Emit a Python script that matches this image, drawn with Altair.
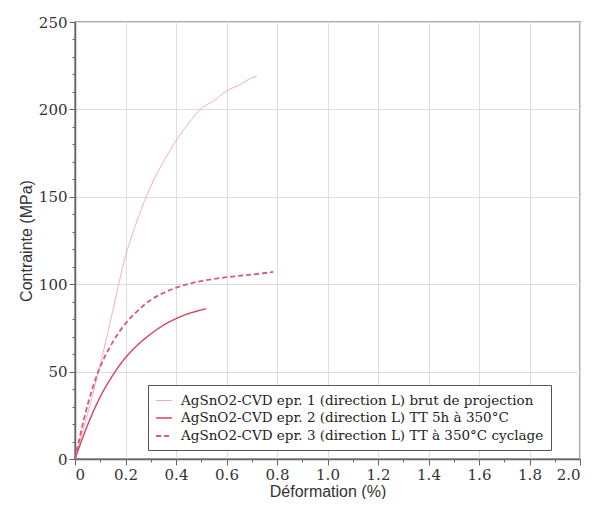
import altair as alt
import pandas as pd

labels = [
    "AgSnO2-CVD epr. 1 (direction L) brut de projection",
    "AgSnO2-CVD epr. 2 (direction L) TT 5h à 350°C",
    "AgSnO2-CVD epr. 3 (direction L) TT à 350°C cyclage",
]

x1 = [0, 0.05, 0.1, 0.15, 0.2, 0.25, 0.3, 0.35, 0.4, 0.45, 0.5, 0.55, 0.6, 0.65, 0.7, 0.72]
y1 = [0, 26, 54, 85, 116, 138, 156, 170, 182, 192, 200.5, 205, 210.5, 214, 218, 219]

x2 = [0, 0.05, 0.1, 0.15, 0.2, 0.25, 0.3, 0.35, 0.4, 0.45, 0.52]
y2 = [0, 19.5, 35.6, 48, 58, 65.5, 71.5, 76.5, 80.3, 83.2, 86]

x3 = [0, 0.05, 0.1, 0.15, 0.2, 0.25, 0.3, 0.35, 0.4, 0.45, 0.5, 0.6, 0.7, 0.785]
y3 = [0, 31, 52.8, 67, 77.5, 85, 91, 95, 98, 100.2, 101.8, 104, 105.5, 107]

rows = []
for lab, xs, ys in zip(labels, [x1, x2, x3], [y1, y2, y3]):
    for i, (a, b) in enumerate(zip(xs, ys)):
        rows.append({"serie": lab, "x": a, "y": b, "o": i})
df = pd.DataFrame(rows)

colors = ["#f6a3b0", "#d8435d", "#d9587a"]
dashes = [[1, 0], [1, 0], [5, 3]]
widths = [1.0, 1.8, 1.8]

xscale = alt.Scale(domain=[0, 2.0], nice=False)
yscale = alt.Scale(domain=[0, 250], nice=False)

lines = alt.Chart(df).mark_line(interpolate="catmull-rom").encode(
    x=alt.X("x:Q", scale=xscale, title="Déformation (%)",
            axis=alt.Axis(orient="bottom", values=[0, 0.2, 0.4, 0.6, 0.8, 1.0, 1.2, 1.4, 1.6, 1.8, 2.0],
                          labelExpr="datum.value == 0 ? '0' : format(datum.value, '.1f')",
                          grid=True, gridColor="#dddddd", tickSize=6)),
    y=alt.Y("y:Q", scale=yscale, title="Contrainte (MPa)",
            axis=alt.Axis(orient="left", values=[0, 50, 100, 150, 200, 250], grid=True,
                          gridColor="#dddddd", tickSize=6)),
    color=alt.Color("serie:N", scale=alt.Scale(domain=labels, range=colors),
                    legend=alt.Legend(title=None, orient="none", legendX=73, legendY=363,
                                      direction="vertical", symbolType="stroke", symbolSize=250,
                                      symbolStrokeWidth=1.8,
                                      labelFont="DejaVu Serif", labelFontSize=13.5, labelColor="#222",
                                      labelLimit=500, rowPadding=2,
                                      strokeColor="#555", fillColor="white", padding=7,
                                      labelOffset=8)),
    strokeDash=alt.StrokeDash("serie:N", scale=alt.Scale(domain=labels, range=dashes), legend=None),
    strokeWidth=alt.StrokeWidth("serie:N", scale=alt.Scale(domain=labels, range=widths), legend=None),
    order="o:Q",
)

xminor = [i * 0.1 for i in range(21)]
yminor = [i * 10 for i in range(26)]
minor = alt.Chart(df).mark_point(opacity=0).encode(
    x=alt.X("x:Q", scale=xscale, title=None,
            axis=alt.Axis(orient="bottom", values=xminor, labels=False, grid=False, tickSize=3, domain=False)),
    y=alt.Y("y:Q", scale=yscale, title=None,
            axis=alt.Axis(orient="left", values=yminor, labels=False, grid=False, tickSize=3, domain=False)),
)

chart = alt.layer(minor, lines).resolve_axis(x="independent", y="independent").properties(
    width=505, height=437,
    autosize=alt.AutoSizeParams(type="none"),
    padding={"left": 67, "top": 14, "right": 23, "bottom": 40},
).configure_axis(
    labelFont="DejaVu Serif", labelFontSize=15, labelColor="#333",
    titleFont="Liberation Sans", titleFontSize=16, titleFontWeight="normal", titleColor="#333",
    domainColor="#666", tickColor="#666", domainWidth=1.5,
).configure_axisX(titlePadding=1, labelPadding=2).configure_axisY(titlePadding=4, labelPadding=2).configure_view(
    stroke="#aaaaaa", strokeWidth=2
)

chart.save("out.html", embed_options={"renderer": "svg", "actions": False})
